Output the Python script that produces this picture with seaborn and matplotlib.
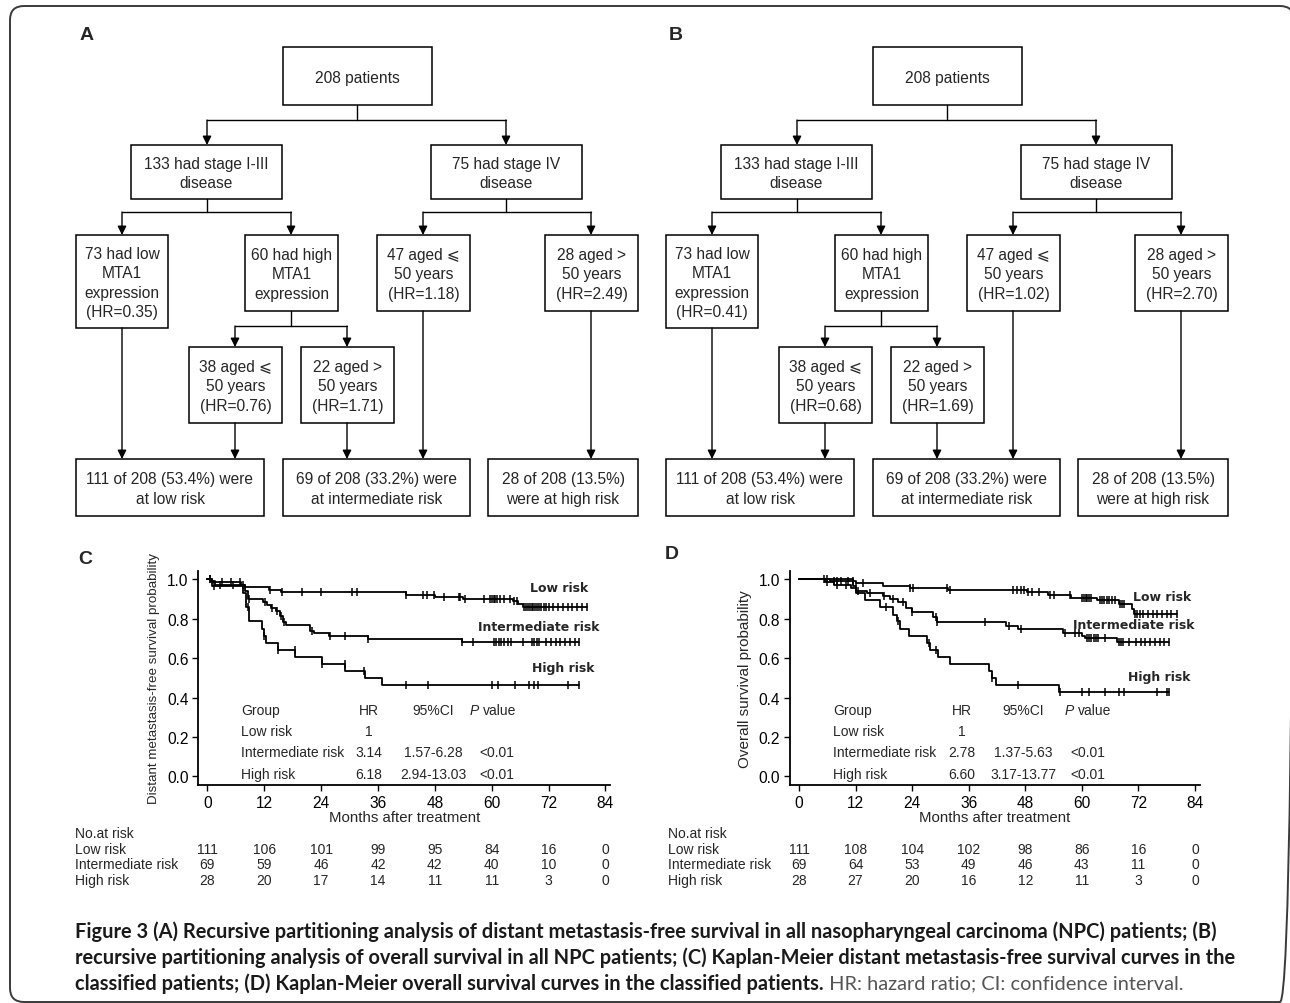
import numpy as np
import pandas as pd
import matplotlib.pyplot as plt
import seaborn as sns
from matplotlib.patches import Rectangle, FancyBboxPatch
from matplotlib.transforms import blended_transform_factory

sns.set_style("ticks")
plt.rcParams["font.family"] = ["Liberation Sans", "DejaVu Sans"]

# tree labels (A: distant metastasis-free survival, B: overall survival)
hr_a = ["0.35", "0.76", "1.71", "1.18", "2.49"]
hr_b = ["0.41", "0.68", "1.69", "1.02", "2.70"]

# Kaplan-Meier curves: event month / survival after it
c_low_t = [0.8, 1.6, 8.0, 13.0, 15.5, 42.0, 48.0, 54.0, 64.5, 65.5, 66.5]
c_low_s = [0.99, 0.97, 0.96, 0.947, 0.934, 0.92, 0.91, 0.90, 0.89, 0.875, 0.86]
c_low_cens = [0.6, 2.7, 5.5, 7.6, 13.2, 15.7, 19.9, 23.9, 30.5, 31.6, 42.0, 45.6, 46.3,
              47.9, 49.9, 53.0, 53.4, 54.4, 58.3, 59.7, 60.1, 60.4, 60.8, 61.1, 61.8,
              62.5, 63.9, 64.6, 65.3, 66.8, 67.2, 67.6, 68.0, 68.4, 68.8, 69.2, 69.6,
              70.0, 70.5, 71.0, 71.5, 72.0, 73.0, 74.0, 75.0, 76.0, 77.0, 78.0, 79.0, 80.1]
c_int_t = [1.0, 7.2, 8.0, 8.5, 11.8, 12.5, 13.5, 14.5, 15.3, 16.0, 16.6, 21.7, 22.5,
           25.6, 33.8, 53.8]
c_int_s = [0.985, 0.97, 0.942, 0.899, 0.884, 0.87, 0.855, 0.84, 0.812, 0.783, 0.768,
           0.739, 0.725, 0.710, 0.696, 0.681]
c_int_cens = [0.5, 3.0, 5.0, 7.0, 8.7, 12.2, 13.6, 14.8, 15.5, 16.2, 22.0, 25.8, 29.0,
              33.9, 53.8, 56.0, 60.5, 61.0, 61.5, 62.0, 62.5, 63.5, 64.0, 66.5, 68.5,
              69.0, 69.5, 70.0, 71.5, 72.5, 73.5, 74.5, 75.5, 76.5, 77.5, 78.4]
c_high_t = [1.0, 7.5, 8.2, 8.8, 11.6, 11.9, 12.3, 15.0, 18.6, 24.1, 29.1, 33.2, 36.9]
c_high_s = [0.964, 0.929, 0.857, 0.786, 0.75, 0.714, 0.679, 0.643, 0.607, 0.571, 0.536,
            0.50, 0.464]
c_high_cens = [1.5, 8.5, 12.0, 15.0, 18.5, 24.1, 29.0, 33.0, 42.0, 46.5, 60.0, 61.3,
               65.0, 67.8, 69.0, 69.7, 76.0, 78.4]

d_low_t = [6.5, 12.2, 17.9, 23.5, 31.7, 48.3, 52.9, 57.8, 63.2, 67.8, 70.7, 71.0]
d_low_s = [0.99, 0.981, 0.968, 0.956, 0.946, 0.934, 0.92, 0.907, 0.895, 0.875, 0.85,
           0.823]
d_low_cens = [5.3, 6.0, 7.5, 8.0, 9.0, 10.5, 11.5, 13.5, 23.6, 24.2, 31.5, 32.0, 45.5,
              46.3, 47.0, 47.7, 48.5, 49.5, 51.0, 53.3, 54.0, 57.5, 60.0, 60.4, 60.8,
              61.2, 61.6, 62.0, 63.8, 64.3, 64.8, 65.3, 65.8, 66.3, 67.0, 68.0, 68.5,
              69.0, 71.2, 71.8, 72.4, 73.0, 74.0, 75.0, 76.0, 77.0, 78.0, 79.0, 80.1]
d_int_t = [5.5, 7.5, 11.0, 12.2, 14.4, 17.9, 19.3, 21.0, 22.8, 23.9, 28.5, 29.2, 44.0,
           46.5, 56.0, 60.0, 60.7, 67.4]
d_int_s = [0.986, 0.971, 0.957, 0.942, 0.928, 0.913, 0.899, 0.884, 0.855, 0.836, 0.807,
           0.783, 0.764, 0.748, 0.728, 0.714, 0.70, 0.681]
d_int_cens = [6.0, 8.0, 10.0, 12.5, 15.0, 18.0, 20.0, 22.0, 24.0, 29.0, 29.3, 39.5,
              44.5, 47.0, 56.5, 58.5, 59.5, 61.0, 61.5, 62.0, 62.5, 63.0, 63.5, 65.0,
              67.8, 68.3, 68.8, 70.0, 71.5, 72.5, 73.5, 74.5, 75.5, 76.5, 77.5, 78.4]
d_high_t = [11.5, 12.2, 14.1, 17.2, 20.0, 20.7, 21.4, 23.4, 27.1, 27.7, 29.4, 32.0,
            40.4, 40.9, 41.8, 55.2]
d_high_s = [0.964, 0.929, 0.893, 0.857, 0.821, 0.786, 0.750, 0.714, 0.679, 0.643, 0.607,
            0.571, 0.536, 0.50, 0.464, 0.426]
d_high_cens = [12.0, 18.5, 21.0, 27.5, 29.0, 41.0, 46.5, 55.3, 60.0, 61.5, 65.0, 67.8,
               69.0, 76.0, 78.0, 78.4]

month_ticks = [0, 12, 24, 36, 48, 60, 72, 84]
risk_groups = ["Low risk", "Intermediate risk", "High risk"]
c_at_risk = [[111, 106, 101, 99, 95, 84, 16, 0],
             [69, 59, 46, 42, 42, 40, 10, 0],
             [28, 20, 17, 14, 11, 11, 3, 0]]
d_at_risk = [[111, 108, 104, 102, 98, 86, 16, 0],
             [69, 64, 53, 49, 46, 43, 11, 0],
             [28, 27, 20, 16, 12, 11, 3, 0]]
c_hr = ["1", "3.14", "6.18"]
c_ci = ["", "1.57-6.28", "2.94-13.03"]
d_hr = ["1", "2.78", "6.60"]
d_ci = ["", "1.37-5.63", "3.17-13.77"]
p_vals = ["", "<0.01", "<0.01"]


fig = plt.figure(figsize=(12.9, 10.04), dpi=100)
bg = fig.add_axes([0, 0, 1, 1])
bg.set_xlim(0, 1290)
bg.set_ylim(1004, 0)
bg.axis("off")

# outer frame (right side runs just past the image edge)
bg.add_patch(FancyBboxPatch((10, 7), 1284, 996, boxstyle="round,pad=0,rounding_size=14",
                            fc="none", ec="#3a3a3a", lw=1.4, clip_on=False))

BOX_FS = 11.2


def box(x0, y0, x1, y1, txt, dx):
    bg.add_patch(Rectangle((x0 + dx, y0), x1 - x0, y1 - y0, fc="white", ec="black", lw=1.1))
    bg.text((x0 + x1) / 2 + dx, (y0 + y1) / 2 + 1, txt, ha="center", va="center",
            fontsize=BOX_FS, linespacing=1.35)


def arrow(x, y0, y1, dx):
    bg.annotate("", xy=(x + dx, y1), xytext=(x + dx, y0),
                arrowprops=dict(arrowstyle="-|>", color="black", lw=1.0,
                                mutation_scale=13, shrinkA=0, shrinkB=0))


def seg(xs, ys, dx):
    bg.plot([x + dx for x in xs], ys, color="black", lw=1.0)


def draw_tree(dx, hr):
    box(283, 48, 432, 106, "208 patients", dx)
    box(131, 146, 282, 200, "133 had stage I-III\ndisease", dx)
    box(431, 146, 582, 200, "75 had stage IV\ndisease", dx)
    box(76, 236, 168, 329, "73 had low\nMTA1\nexpression\n(HR=%s)" % hr[0], dx)
    box(245, 236, 338, 312, "60 had high\nMTA1\nexpression", dx)
    box(377, 236, 470, 312, "47 aged \u2a7d\n50 years\n(HR=%s)" % hr[3], dx)
    box(545, 236, 638, 312, "28 aged >\n50 years\n(HR=%s)" % hr[4], dx)
    box(189, 348, 282, 424, "38 aged \u2a7d\n50 years\n(HR=%s)" % hr[1], dx)
    box(301, 348, 394, 424, "22 aged >\n50 years\n(HR=%s)" % hr[2], dx)
    box(76, 460, 264, 517, "111 of 208 (53.4%) were\nat low risk", dx)
    box(283, 460, 470, 517, "69 of 208 (33.2%) were\nat intermediate risk", dx)
    box(488, 460, 638, 517, "28 of 208 (13.5%)\nwere at high risk", dx)
    # connectors
    seg([357, 357], [106, 121], dx)
    seg([207, 506], [121, 121], dx)
    arrow(207, 121, 146, dx)
    arrow(506, 121, 146, dx)
    seg([207, 207], [200, 213], dx)
    seg([122, 291], [213, 213], dx)
    arrow(122, 213, 236, dx)
    arrow(291, 213, 236, dx)
    seg([506, 506], [200, 213], dx)
    seg([423, 591], [213, 213], dx)
    arrow(423, 213, 236, dx)
    arrow(591, 213, 236, dx)
    seg([291, 291], [312, 327], dx)
    seg([235, 347], [327, 327], dx)
    arrow(235, 327, 348, dx)
    arrow(347, 327, 348, dx)
    arrow(122, 329, 460, dx)
    arrow(235, 424, 460, dx)
    arrow(347, 424, 460, dx)
    arrow(423, 312, 460, dx)
    arrow(591, 312, 460, dx)


draw_tree(0, hr_a)
draw_tree(590, hr_b)

for lab, x, y in [("A", 87, 35), ("B", 676, 35), ("C", 85, 560), ("D", 672, 555)]:
    bg.text(x, y, lab, fontsize=14, fontweight="bold", ha="center", va="center")


def km_frame(times, surv, end):
    return pd.DataFrame({"month": [0.0] + times + [end],
                         "surv": [1.0] + surv + [surv[-1]]})


def draw_km(rect, curves, ylabel, ylab_size, labels, hr, ci, at_risk, tbl_x, risk_x):
    ax = fig.add_axes(rect)
    ax.set_facecolor("none")
    for times, surv, cens, end in curves:
        f = km_frame(times, surv, end)
        sns.lineplot(data=f, x="month", y="surv", drawstyle="steps-post", estimator=None,
                     sort=False, color="black", lw=1.3, ax=ax)
        idx = np.searchsorted(f["month"].values, cens, side="right") - 1
        cy = f["surv"].values[idx]
        sns.scatterplot(x=cens, y=cy, marker="|", s=34, color="black", linewidth=1.1, ax=ax)
    ax.set_xlim(-1.9, 85)
    ax.set_ylim(-0.044, 1.042)
    ax.set_xticks(month_ticks)
    ax.set_yticks([0, 0.2, 0.4, 0.6, 0.8, 1.0])
    ax.set_yticklabels(["0.0", "0.2", "0.4", "0.6", "0.8", "1.0"])
    ax.tick_params(labelsize=11.2, length=4, width=1, pad=3, colors="black")
    for s in ["left", "bottom"]:
        ax.spines[s].set_linewidth(1.3)
        ax.spines[s].set_color("black")
    sns.despine(ax=ax)
    ax.set_xlabel("Months after treatment", fontsize=10.8, labelpad=0)
    ax.set_ylabel(ylabel, fontsize=ylab_size, labelpad=5)
    for txt, x, y in labels:
        ax.text(x, y, txt, fontsize=9, fontweight="bold", family="DejaVu Sans",
                ha="left", va="center")
    # statistics table
    gx, hx, cx, px, pvx = tbl_x
    rows_y = [711, 732, 753, 775]
    fs = 10
    bg.text(gx, rows_y[0], "Group", fontsize=fs, va="center")
    bg.text(hx, rows_y[0], "HR", fontsize=fs, va="center", ha="center")
    bg.text(cx, rows_y[0], "95%CI", fontsize=fs, va="center", ha="center")
    bg.text(px, rows_y[0], "P", fontsize=fs, va="center", style="italic")
    bg.text(px + 13, rows_y[0], "value", fontsize=fs, va="center")
    for i in range(3):
        y = rows_y[i + 1]
        bg.text(gx, y, risk_groups[i], fontsize=fs, va="center")
        bg.text(hx, y, hr[i], fontsize=fs, va="center", ha="center")
        bg.text(cx, y, ci[i], fontsize=fs, va="center", ha="center")
        bg.text(pvx, y, p_vals[i], fontsize=fs, va="center", ha="center")
    # number at risk
    tr = blended_transform_factory(ax.transData, bg.transData)
    bg.text(risk_x, 834, "No.at risk", fontsize=fs, va="center")
    for i, yy in enumerate([850, 865, 881]):
        bg.text(risk_x, yy, risk_groups[i], fontsize=fs, va="center")
        for m, n in zip(month_ticks, at_risk[i]):
            ax.text(m, yy, str(n), transform=tr, fontsize=fs, ha="center", va="center",
                    clip_on=False)
    return ax


draw_km([198.3 / 1290, (1004 - 786) / 1004, 411.9 / 1290, 214 / 1004],
        [(c_low_t, c_low_s, c_low_cens, 80.1),
         (c_int_t, c_int_s, c_int_cens, 78.4),
         (c_high_t, c_high_s, c_high_cens, 78.4)],
        "Distant metastasis-free survival probability", 9.6,
        [("Low risk", 68.1, 0.956), ("Intermediate risk", 57.1, 0.758), ("High risk", 68.6, 0.55)],
        c_hr, c_ci, c_at_risk, (241, 369, 433, 470, 497), 75)

draw_km([790 / 1290, (1004 - 786) / 1004, 409.7 / 1290, 214 / 1004],
        [(d_low_t, d_low_s, d_low_cens, 80.1),
         (d_int_t, d_int_s, d_int_cens, 78.4),
         (d_high_t, d_high_s, d_high_cens, 78.4)],
        "Overall survival probability", 11,
        [("Low risk", 70.8, 0.915), ("Intermediate risk", 58.1, 0.768), ("High risk", 69.8, 0.509)],
        d_hr, d_ci, d_at_risk, (833, 962, 1023, 1065, 1088), 668)

# caption
cap1 = ("Figure 3 (A) Recursive partitioning analysis of distant metastasis-free survival "
        "in all nasopharyngeal carcinoma (NPC) patients; (B)")
cap2 = ("recursive partitioning analysis of overall survival in all NPC patients; "
        "(C) Kaplan-Meier distant metastasis-free survival curves in the")
cap3 = "classified patients; (D) Kaplan-Meier overall survival curves in the classified patients."
cap4 = " HR: hazard ratio; CI: confidence interval."
cfont = ["Lato", "DejaVu Sans"]
t1 = bg.text(75, 932, cap1, fontsize=13, fontweight="bold", family=cfont, va="center",
             color="#1a1a1a")
fig.canvas.draw()
r = fig.canvas.get_renderer()
size = 13 * 1140 / t1.get_window_extent(r).width
t1.set_fontsize(size)
bg.text(75, 958, cap2, fontsize=size, fontweight="bold", family=cfont, va="center",
        color="#1a1a1a")
t3 = bg.text(75, 984, cap3, fontsize=size, fontweight="bold", family=cfont, va="center",
             color="#1a1a1a")
fig.canvas.draw()
w3 = t3.get_window_extent(r).width
bg.text(75 + w3, 984, cap4, fontsize=size, family=cfont, va="center", color="#555555")

fig.savefig("out.png", dpi=100)
